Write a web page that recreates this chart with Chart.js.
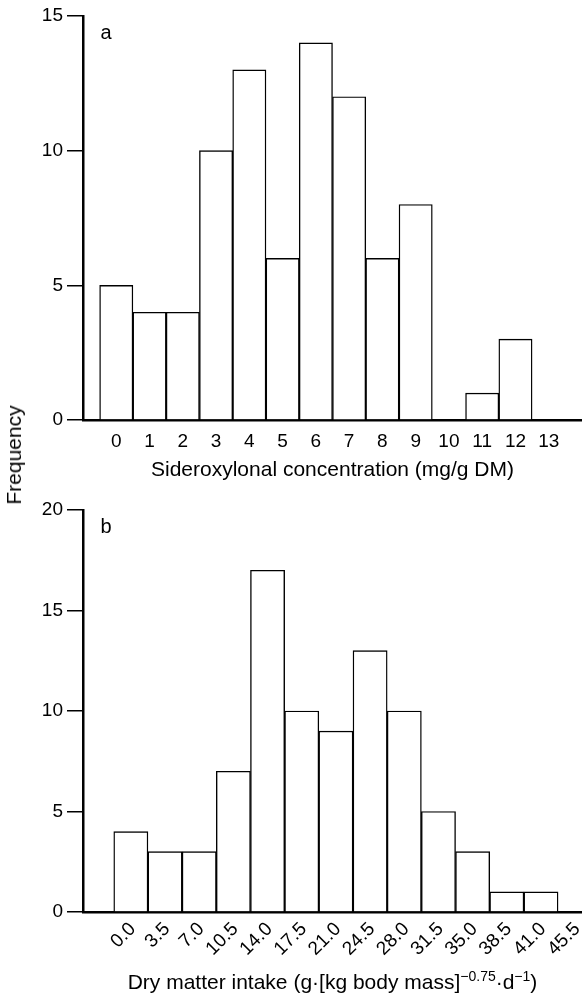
<!DOCTYPE html>
<html>
<head>
<meta charset="utf-8">
<script src="https://cdn.jsdelivr.net/npm/chart.js@4"></script>
<style>
  body { margin: 0; background: #fff; }
  #hoja { position: relative; width: 582px; height: 993px; }
  canvas { position: absolute; left: 0; }
  #frecuencia {
    position: absolute; left: 14px; top: 455px;
    transform: translate(-50%, -50%) rotate(-90deg);
    font: 21px "Liberation Sans", Arial, sans-serif; color: #000; white-space: nowrap;
  }
</style>
</head>
<body>
<div id="hoja">
  <canvas id="graficaA" width="582" height="490" style="top:0"></canvas>
  <canvas id="graficaB" width="582" height="503" style="top:490px"></canvas>
  <div id="frecuencia">Frequency</div>
</div>
<script>
//Panel a: sideroxylonal
const marcasA = ["0", "1", "2", "3", "4", "5", "6", "7", "8", "9", "10", "11", "12", "13"];
const frecuenciaA = [5, 4, 4, 10, 13, 6, 14, 12, 6, 8, 0, 1, 3];
const tituloA = "Sideroxylonal concentration (mg/g DM)";

//Panel b: consumo de materia seca
const marcasB = ["0.0", "3.5", "7.0", "10.5", "14.0", "17.5", "21.0", "24.5", "28.0", "31.5", "35.0", "38.5", "41.0", "45.5"];
const frecuenciaB = [4, 3, 3, 7, 17, 10, 9, 13, 10, 5, 3, 1, 1];
const tituloB = "Dry matter intake (g·[kg body mass]^{−0.75}·d^{−1})";

const fuente = '"Liberation Sans", Arial, sans-serif';
Chart.defaults.font.family = fuente;
Chart.defaults.font.size = 19;
Chart.defaults.color = "#000";

//Letra del panel arriba a la izquierda
const letraPanel = {
    id: "letraPanel",
    afterDraw(chart, args, opts) {
        const ctx = chart.ctx;
        ctx.save();
        ctx.font = "20px " + fuente;
        ctx.fillStyle = "#000";
        ctx.textAlign = "center";
        ctx.textBaseline = "middle";
        ctx.fillText(opts.texto, chart.chartArea.left + 23, chart.chartArea.top + 17);
        ctx.restore();
    }
};

//Título del eje x con superíndices (^{...})
const tituloSup = {
    id: "tituloSup",
    afterDraw(chart, args, opts) {
        if (!opts.texto) return;
        const ctx = chart.ctx;
        const trozos = opts.texto.split(/(\^\{[^}]*\})/).filter(t => t).map(t =>
            t.startsWith("^{") ? { t: t.slice(2, -1), sup: true } : { t: t, sup: false });
        ctx.save();
        ctx.fillStyle = "#000";
        ctx.textBaseline = "alphabetic";
        let total = 0;
        trozos.forEach(p => {
            ctx.font = (p.sup ? "14px " : "21px ") + fuente;
            p.w = ctx.measureText(p.t).width;
            total += p.w;
        });
        let x = (chart.chartArea.left + chart.chartArea.right) / 2 - total / 2;
        trozos.forEach(p => {
            ctx.font = (p.sup ? "14px " : "21px ") + fuente;
            ctx.fillText(p.t, x, opts.base - (p.sup ? 8 : 0));
            x += p.w;
        });
        ctx.restore();
    }
};

function histograma(id, marcas, datos, opc) {
    return new Chart(document.getElementById(id), {
        type: "bar",
        data: {
            datasets: [{
                data: datos.map((v, i) => ({ x: i, y: v })),
                backgroundColor: "#fff",
                borderColor: "#000",
                borderWidth: 1.4,
                barPercentage: 1,
                categoryPercentage: 1,
            }]
        },
        options: {
            responsive: false,
            animation: false,
            layout: { padding: { top: opc.arriba, left: 0, right: 0, bottom: 0 } },
            scales: {
                x: {
                    type: "linear",
                    offset: false,
                    min: opc.xMin,
                    max: opc.xMax,
                    grid: { display: false, drawTicks: false, offset: false },
                    border: { display: true, color: "#000", width: 2.5 },
                    afterBuildTicks: escala => { escala.ticks = marcas.map((m, i) => ({ value: i })); },
                    afterFit: escala => {
                        escala.height = opc.altoX;
                        escala.paddingLeft = 0;
                        escala.paddingRight = 0;
                    },
                    ticks: {
                        autoSkip: false,
                        minRotation: opc.giro,
                        maxRotation: opc.giro,
                        padding: opc.sepX,
                        labelOffset: opc.desplaza,
                        callback: (v, i) => marcas[i],
                    },
                    title: opc.titulo ? {
                        display: true, text: opc.titulo,
                        font: { size: 21 }, padding: { top: 0, bottom: 7 }
                    } : { display: false },
                },
                y: {
                    min: 0,
                    max: opc.yMax,
                    grid: { drawOnChartArea: false, drawTicks: true, tickLength: 16, color: "#000", lineWidth: 1.5 },
                    border: { display: true, color: "#000", width: 2.5 },
                    afterFit: escala => { escala.width = 83; },
                    ticks: { stepSize: 5, padding: 4 },
                }
            },
            plugins: {
                legend: { display: false },
                tooltip: { enabled: false },
                letraPanel: { texto: opc.letra },
                tituloSup: { texto: opc.tituloSup, base: opc.base },
            }
        },
        plugins: [letraPanel, tituloSup]
    });
}

histograma("graficaA", marcasA, frecuenciaA, {
    arriba: 16, altoX: 70, xMin: -1, xMax: 14, yMax: 15,
    giro: 0, sepX: 10, desplaza: 0, titulo: tituloA, letra: "a"
});

histograma("graficaB", marcasB, frecuenciaB, {
    arriba: 20, altoX: 81, xMin: -1.4, xMax: 13.2, yMax: 20,
    giro: 45, sepX: 6, desplaza: 2, tituloSup: tituloB, base: 499, letra: "b"
});
</script>
</body>
</html>
